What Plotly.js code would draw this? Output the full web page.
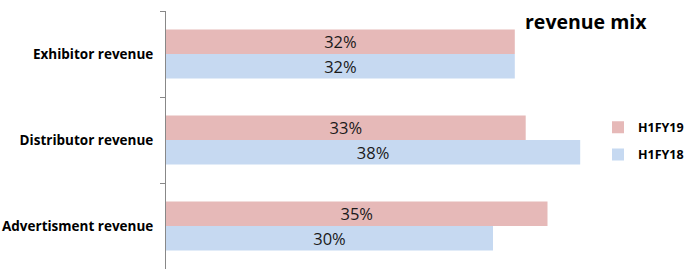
<!DOCTYPE html>
<html><head><meta charset="utf-8">
<script src="https://cdn.plot.ly/plotly-3.0.1.min.js"></script>
<style>html,body{margin:0;padding:0;background:#fff;}#chart{width:691px;height:269px;}</style>
</head><body><div id="chart"></div>
<script>
const categories = ["Exhibitor revenue", "Distributor revenue", "Advertisment revenue"];
const seriesNames = ["H1FY19", "H1FY18"];
const h1fy19 = [0.32, 0.33, 0.35];
const h1fy18 = [0.32, 0.38, 0.30];
const colors = ["#E6B9B8", "#C6D9F1"];

function mk(vals, name, color, grp) {
  return {
    type: "bar", orientation: "h", y: categories, x: vals, name: name,
    legendgroup: grp,
    marker: {color: color, line: {width: 0}},
    text: vals.map(v => Math.round(v * 100) + "%"),
    textposition: "inside", insidetextanchor: "middle", constraintext: "none",
    textfont: {family: "Open Sans, sans-serif", size: 16.5, color: "#1a1a1a"},
    hoverinfo: "none"
  };
}
const data = [mk(h1fy19, seriesNames[0], colors[0], "a"), mk(h1fy18, seriesNames[1], colors[1], "b")];
const layout = {
  width: 691, height: 269,
  margin: {l: 166, r: 89, t: 11, b: 0, pad: 0, autoexpand: false},
  paper_bgcolor: "#fff", plot_bgcolor: "#fff",
  barmode: "group", bargap: 0.43, bargroupgap: 0,
  title: {text: "<b>revenue mix</b>", x: 525/691, xanchor: "left", xref: "container",
          y: 1 - 22/269, yanchor: "middle", yref: "container",
          font: {family: "Open Sans, sans-serif", size: 19.5, color: "#000"}},
  xaxis: {range: [0, 0.4], visible: false, showgrid: false, zeroline: false, fixedrange: true},
  yaxis: {type: "category", autorange: "reversed", showline: true, linecolor: "#888", linewidth: 1,
          ticks: "outside", tickson: "boundaries", ticklen: 5, tickcolor: "#888",
          ticklabelstandoff: 9,
          tickfont: {family: "Open Sans, sans-serif", size: 13.5, color: "#000", weight: "bold"},
          showgrid: false, zeroline: false},
  legend: {x: 598/691, xref: "container", xanchor: "left", y: 1 - 141/269, yref: "container", yanchor: "middle",
           font: {family: "Open Sans, sans-serif", size: 12.5, color: "#000", weight: "bold"},
           traceorder: "grouped", tracegroupgap: 8, itemwidth: 30},
  showlegend: true
};
Plotly.newPlot("chart", data, layout, {staticPlot: true, displayModeBar: false});
</script></body></html>
